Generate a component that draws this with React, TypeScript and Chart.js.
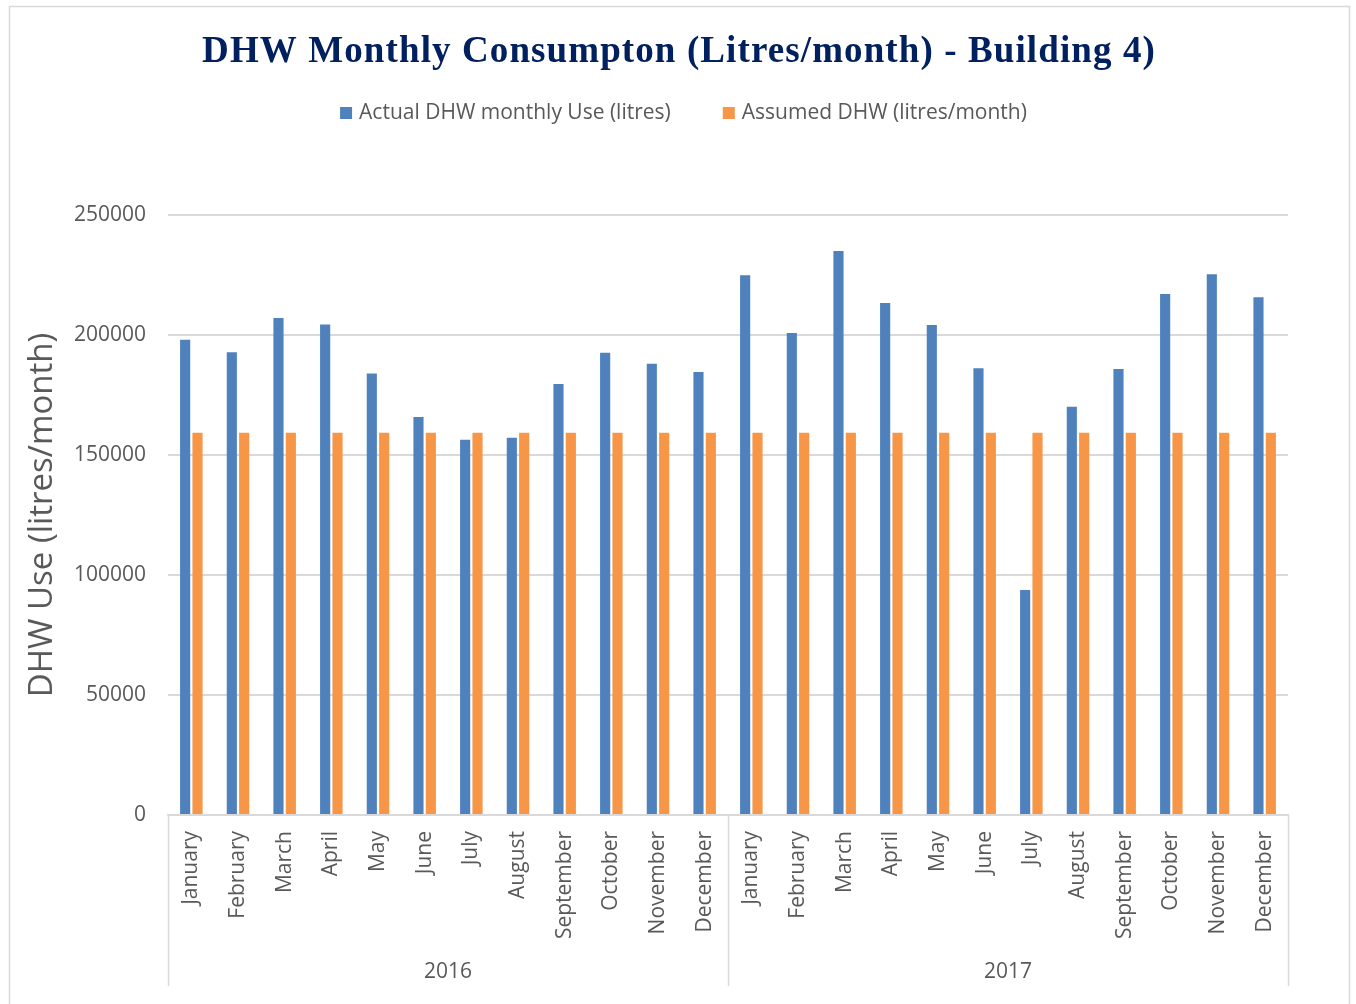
import { useEffect, useRef } from "react";
import { Chart, registerables } from "chart.js";

Chart.register(...registerables);

const TITLE = "DHW Monthly Consumpton (Litres/month) - Building 4)";
const Y_TITLE = "DHW Use (litres/month)";
const SERIES_NAMES = ["Actual DHW monthly Use (litres)", "Assumed DHW (litres/month)"];
const YEARS = ["2016", "2017"];
const MONTHS = [
  "January", "February", "March", "April", "May", "June",
  "July", "August", "September", "October", "November", "December",
];
const ACTUAL_2016 = [198000, 192800, 207100, 204400, 184000, 165800, 156400, 157200, 179600, 192600, 188000, 184600];
const ACTUAL_2017 = [224900, 200800, 235000, 213300, 204200, 186100, 93800, 170100, 185800, 217100, 225300, 215700];
const ASSUMED_2016 = [159300, 159300, 159300, 159300, 159300, 159300, 159300, 159300, 159300, 159300, 159300, 159300];
const ASSUMED_2017 = [159300, 159300, 159300, 159300, 159300, 159300, 159300, 159300, 159300, 159300, 159300, 159300];
const Y_TICKS = [0, 50000, 100000, 150000, 200000, 250000];

const BLUE = "#4f81bd";
const ORANGE = "#f79646";
const TEXT = "#595959";
const GRID = "#d9d9d9";
const FONT = "'Open Sans', sans-serif";

export default function App() {
  const ref = useRef<HTMLCanvasElement | null>(null);

  useEffect(() => {
    const canvas = ref.current;
    if (!canvas) return;

    const labels: string[] = [];
    YEARS.forEach(() => MONTHS.forEach((m) => labels.push(m)));
    const actual = [...ACTUAL_2016, ...ACTUAL_2017];
    const assumed = [...ASSUMED_2016, ...ASSUMED_2017];

    const decor = {
      id: "decor",
      beforeDraw(chart: any) {
        const ctx = chart.ctx;
        ctx.save();
        ctx.fillStyle = "#ffffff";
        ctx.fillRect(0, 0, chart.width, chart.height);
        ctx.strokeStyle = GRID;
        ctx.lineWidth = 1.5;
        ctx.strokeRect(9.5, 6.5, 1340, 1010);
        ctx.restore();
      },
      afterDraw(chart: any) {
        const ctx = chart.ctx;
        const area = chart.chartArea;
        const xs = chart.scales.x;
        ctx.save();

        // title
        ctx.font = "bold 37px 'Liberation Serif', serif";
        (ctx as any).letterSpacing = "1.1px";
        ctx.fillStyle = "#002060";
        ctx.textAlign = "center";
        ctx.textBaseline = "middle";
        ctx.fillText(TITLE, 679, 52);
        (ctx as any).letterSpacing = "0px";

        // legend
        ctx.font = "21px " + FONT;
        const box = 12;
        const gapBox = 7;
        const gapItems = 52;
        const w0 = ctx.measureText(SERIES_NAMES[0]).width;
        const w1 = ctx.measureText(SERIES_NAMES[1]).width;
        const total = box + gapBox + w0 + gapItems + box + gapBox + w1;
        let lx = 683.5 - total / 2;
        const ly = 113;
        ctx.textAlign = "left";
        ctx.fillStyle = BLUE;
        ctx.fillRect(lx, ly - box / 2, box, box);
        ctx.fillStyle = TEXT;
        ctx.fillText(SERIES_NAMES[0], lx + box + gapBox, ly);
        lx += box + gapBox + w0 + gapItems;
        ctx.fillStyle = ORANGE;
        ctx.fillRect(lx, ly - box / 2, box, box);
        ctx.fillStyle = TEXT;
        ctx.fillText(SERIES_NAMES[1], lx + box + gapBox, ly);

        // group separators and year labels
        const n = MONTHS.length;
        const half = (xs.getPixelForValue(1) - xs.getPixelForValue(0)) / 2;
        ctx.strokeStyle = GRID;
        ctx.lineWidth = 1.5;
        for (let g = 0; g <= YEARS.length; g++) {
          const px = g === YEARS.length
            ? xs.getPixelForValue(g * n - 1) + half
            : xs.getPixelForValue(g * n) - half;
          ctx.beginPath();
          ctx.moveTo(Math.round(px) + 0.5, area.bottom);
          ctx.lineTo(Math.round(px) + 0.5, 986);
          ctx.stroke();
        }
        ctx.fillStyle = TEXT;
        ctx.font = "21px " + FONT;
        ctx.textAlign = "center";
        YEARS.forEach((y, g) => {
          const a = xs.getPixelForValue(g * n) - half;
          const b = xs.getPixelForValue(g * n + n - 1) + half;
          ctx.fillText(y, (a + b) / 2, 972);
        });
        ctx.restore();
      },
    };

    const chart = new Chart(canvas, {
      type: "bar",
      data: {
        labels,
        datasets: [
          {
            label: SERIES_NAMES[0],
            data: actual,
            backgroundColor: BLUE,
            categoryPercentage: 0.53,
            barPercentage: 0.82,
          },
          {
            label: SERIES_NAMES[1],
            data: assumed,
            backgroundColor: ORANGE,
            categoryPercentage: 0.53,
            barPercentage: 0.82,
          },
        ],
      },
      options: {
        animation: false,
        responsive: false,
        maintainAspectRatio: false,
        layout: { padding: { top: 215, left: 0, right: 68, bottom: 0 } },
        plugins: {
          legend: { display: false },
          title: { display: false },
          tooltip: { enabled: false },
        },
        scales: {
          x: {
            grid: { display: false, drawTicks: false },
            border: { display: true, color: GRID, width: 1.5 },
            ticks: {
              color: TEXT,
              font: { family: FONT, size: 21 },
              minRotation: 90,
              maxRotation: 90,
              autoSkip: false,
              padding: 16,
            },
            afterFit(scale: any) {
              scale.height = 189;
            },
          },
          y: {
            min: 0,
            max: 250000,
            afterBuildTicks(scale: any) {
              scale.ticks = Y_TICKS.map((v) => ({ value: v }));
            },
            grid: { color: GRID, lineWidth: 2, drawTicks: false },
            border: { display: false },
            ticks: {
              color: TEXT,
              font: { family: FONT, size: 21 },
              padding: 22,
              callback: (v: any) => String(v),
            },
            title: {
              display: true,
              text: Y_TITLE,
              color: TEXT,
              font: { family: FONT, size: 33, weight: "normal" },
              padding: { top: 23, bottom: 0 },
            },
            afterFit(scale: any) {
              scale.width = 168;
            },
          },
        },
      },
      plugins: [decor],
    } as any);

    return () => chart.destroy();
  }, []);

  return (
    <div style={{ position: "absolute", left: 0, top: 0, width: 1356, height: 1004 }}>
      <canvas ref={ref} width={1356} height={1004} style={{ display: "block" }} />
    </div>
  );
}
